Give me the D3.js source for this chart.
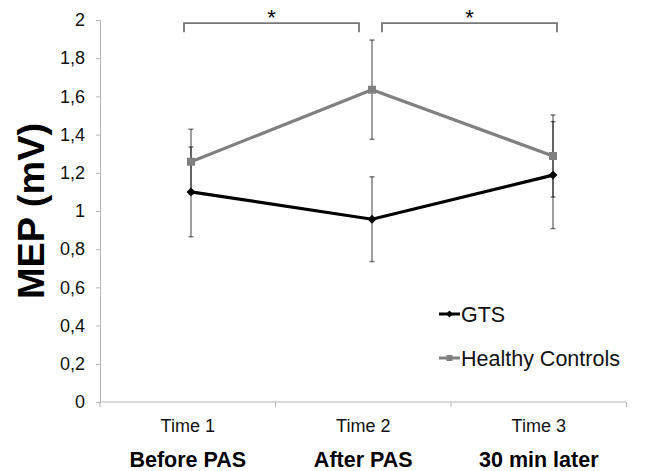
<!DOCTYPE html>
<html><head><meta charset="utf-8">
<script src="https://cdn.jsdelivr.net/npm/d3@7"></script>
<style>html,body{margin:0;padding:0;background:#fff;}svg{display:block;font-family:"Liberation Sans",Arial,Helvetica,sans-serif;}</style>
</head><body>
<svg id="c" width="645" height="471"></svg>
<script>
const categories = ["Time 1", "Time 2", "Time 3"];
const phases = ["Before PAS", "After PAS", "30 min later"];
const seriesNames = ["GTS", "Healthy Controls"];
const gtsValues = [1.10, 0.957, 1.188];
const gtsErrors = [0.235, 0.222, 0.28];
const hcValues = [1.258, 1.635, 1.288];
const hcErrors = [0.17, 0.26, 0.215];
const yTicks = [0, 0.2, 0.4, 0.6, 0.8, 1, 1.2, 1.4, 1.6, 1.8, 2];
const yTickLabels = ["0", "0,2", "0,4", "0,6", "0,8", "1", "1,2", "1,4", "1,6", "1,8", "2"];
const brackets = [["Time 1", "Time 2"], ["Time 2", "Time 3"]];
const bracketLabels = ["*", "*"];

const svg = d3.select("#c");
const y = d3.scaleLinear().domain([0, 2]).range([402, 20]);
const xBand = d3.scaleBand().domain(categories).range([100, 626.5]);
const xPt = d3.scalePoint().domain(categories).range([191, 553]);
const axisColor = "#b5b5b5";

// Y axis
const yAxis = d3.axisLeft(y).tickValues(yTicks).tickSize(4).tickPadding(11)
  .tickFormat((d, i) => yTickLabels[i]);
const gy = svg.append("g").attr("transform", "translate(100,0)").call(yAxis);
gy.select(".domain").attr("stroke", axisColor);
gy.selectAll(".tick line").attr("stroke", axisColor);
gy.selectAll(".tick text").attr("font-size", 18).attr("fill", "#111")
  .attr("font-family", "Liberation Sans, Arial, sans-serif");

// X axis
svg.append("line").attr("x1", xBand.range()[0]).attr("x2", xBand.range()[1])
  .attr("y1", y(0)).attr("y2", y(0)).attr("stroke", axisColor);
const bounds = categories.map(c => xBand(c)).concat([xBand.range()[1]]);
svg.selectAll(".xt").data(bounds).enter().append("line")
  .attr("x1", d => d).attr("x2", d => d).attr("y1", y(0)).attr("y2", y(0) + 5)
  .attr("stroke", axisColor);
svg.selectAll(".xl").data(categories).enter().append("text")
  .attr("x", d => xBand(d) + xBand.bandwidth() / 2).attr("y", 432)
  .attr("text-anchor", "middle").attr("font-size", 18).attr("fill", "#111").text(d => d);
svg.selectAll(".xp").data(phases).enter().append("text")
  .attr("x", (d, i) => xBand(categories[i]) + xBand.bandwidth() / 2).attr("y", 467)
  .attr("text-anchor", "middle").attr("font-size", 21.5).attr("font-weight", "bold")
  .attr("fill", "#000").text(d => d);

// Y title
svg.append("text").attr("transform", "translate(44,211) rotate(-90)")
  .attr("text-anchor", "middle").attr("font-size", 36).attr("font-weight", "bold")
  .attr("textLength", 176).attr("lengthAdjust", "spacingAndGlyphs")
  .text("MEP (mV)");

// Lines
const line = d3.line().x((d, i) => xPt(categories[i])).y(d => y(d));
svg.append("path").datum(hcValues).attr("d", line).attr("fill", "none")
  .attr("stroke", "#808080").attr("stroke-width", 3.2);
svg.append("path").datum(gtsValues).attr("d", line).attr("fill", "none")
  .attr("stroke", "#000").attr("stroke-width", 3.2);

// Error bars
function errBars(vals, errs) {
  const g = svg.append("g").attr("stroke", "#000").attr("stroke-opacity", 0.5).attr("stroke-width", 1.5);
  vals.forEach((v, i) => {
    const cx = xPt(categories[i]);
    g.append("line").attr("x1", cx).attr("x2", cx).attr("y1", y(v - errs[i])).attr("y2", y(v + errs[i]));
    [v - errs[i], v + errs[i]].forEach(e => {
      g.append("line").attr("x1", cx - 2.5).attr("x2", cx + 2.5).attr("y1", y(e)).attr("y2", y(e));
    });
  });
}
errBars(hcValues, hcErrors);
errBars(gtsValues, gtsErrors);

// Markers
svg.selectAll(".hcm").data(hcValues).enter().append("rect")
  .attr("x", (d, i) => xPt(categories[i]) - 4).attr("y", d => y(d) - 4)
  .attr("width", 8).attr("height", 8).attr("fill", "#808080");
const diamond = d3.symbol().type(d3.symbolDiamond2).size(50);
svg.selectAll(".gm").data(gtsValues).enter().append("path")
  .attr("d", diamond).attr("transform", (d, i) => `translate(${xPt(categories[i])},${y(d)})`)
  .attr("fill", "#000");

// Significance brackets
brackets.forEach((b, k) => {
  const x1 = xPt(b[0]) + (k === 0 ? -7 : 10);
  const x2 = xPt(b[1]) + (k === 0 ? -13 : 4);
  const top = y(1.984), bot = y(1.936);
  svg.append("path").attr("d", `M${x1},${bot}V${top}H${x2}V${bot}`)
    .attr("fill", "none").attr("stroke", "#777").attr("stroke-width", 1.8);
  svg.append("text").attr("x", (x1 + x2) / 2).attr("y", 25).attr("text-anchor", "middle")
    .attr("font-size", 22).attr("fill", "#000").text(bracketLabels[k]);
});

// Legend
const legend = [
  { name: seriesNames[0], color: "#000", shape: "diamond", y: 314 },
  { name: seriesNames[1], color: "#808080", shape: "square", y: 358 }
];
legend.forEach(l => {
  svg.append("line").attr("x1", 439).attr("x2", 460).attr("y1", l.y).attr("y2", l.y)
    .attr("stroke", l.color).attr("stroke-width", 3);
  if (l.shape === "diamond") {
    svg.append("path").attr("d", d3.symbol().type(d3.symbolDiamond2).size(30))
      .attr("transform", `translate(449.5,${l.y})`).attr("fill", l.color);
  } else {
    svg.append("rect").attr("x", 446.5).attr("y", l.y - 3).attr("width", 6).attr("height", 6).attr("fill", l.color);
  }
  svg.append("text").attr("x", 461).attr("y", l.y + 8).attr("font-size", 21.5).attr("fill", "#111").text(l.name);
});
</script>
</body></html>
